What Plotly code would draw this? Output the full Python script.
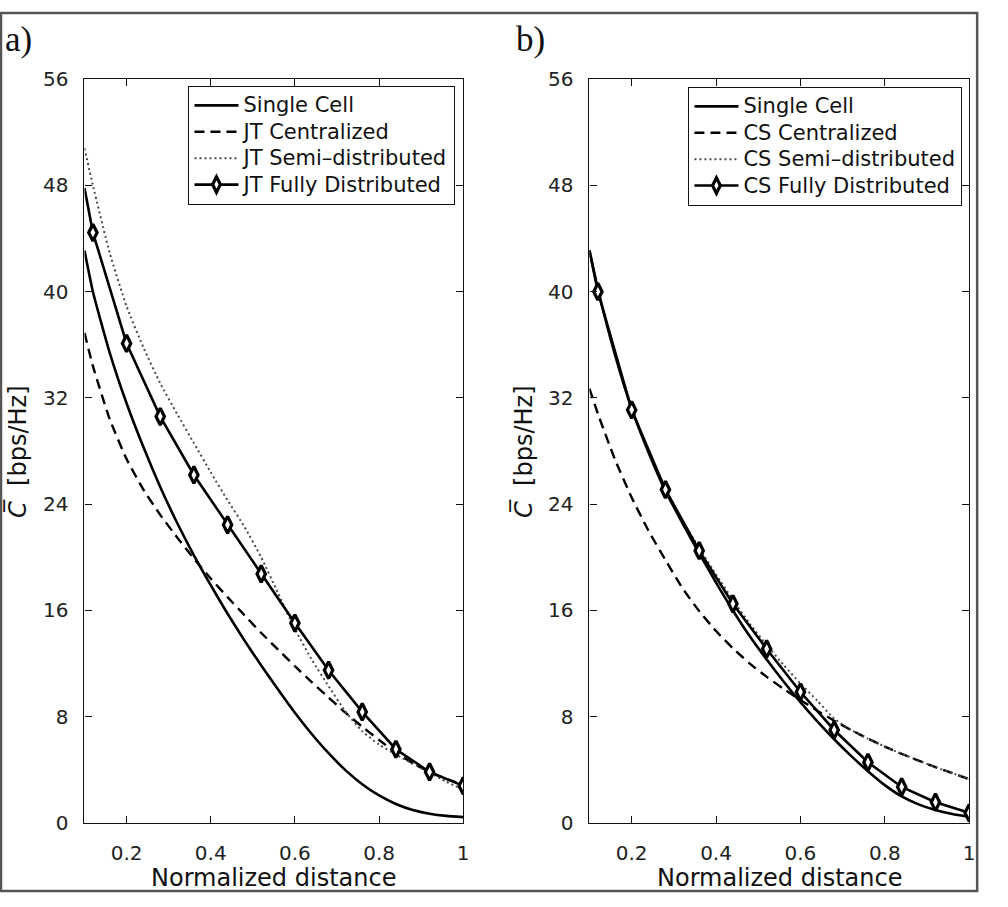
import plotly.graph_objects as go

W, H = 1008, 907

# ---------------- data ----------------
X = [0.10, 0.12, 0.16, 0.20, 0.24, 0.28, 0.32, 0.36, 0.40, 0.44, 0.48, 0.52,
     0.56, 0.60, 0.64, 0.68, 0.72, 0.76, 0.80, 0.84, 0.88, 0.92, 0.96, 1.00]
X_FD = [0.10, 0.12, 0.20, 0.28, 0.36, 0.44, 0.52, 0.60, 0.68, 0.76, 0.84, 0.92, 1.00]

# panel a) Joint Transmission
single_a = [43.1, 40.0, 35.4, 31.6, 28.3, 25.3, 22.6, 20.15, 17.9, 15.75, 13.75, 11.85,
            10.05, 8.3, 6.7, 5.25, 3.98, 2.92, 2.07, 1.43, 0.98, 0.7, 0.53, 0.44]
jt_central = [36.9, 34.4, 30.4, 27.4, 25.1, 23.2, 21.5, 19.9, 18.4, 17.0, 15.65, 14.3,
              13.05, 11.8, 10.6, 9.45, 8.3, 7.25, 6.25, 5.3, 4.5, 3.85, 3.3, 2.9]
jt_semi = [50.8, 48.0, 42.9, 38.9, 35.8, 33.1, 30.8, 28.6, 26.4, 24.3, 22.3, 20.0,
           17.3, 14.6, 12.3, 10.3, 8.4, 6.9, 5.9, 5.15, 4.45, 3.8, 3.1, 2.5]
jt_fully = [47.8, 44.45, 36.1, 30.6, 26.2, 22.45, 18.75, 15.05, 11.5, 8.36, 5.55, 3.84, 2.79]

# panel b) Coordinated Scheduling
single_b = [43.1, 40.2, 35.3, 31.2, 27.9, 25.0, 22.6, 20.3, 18.1, 16.0, 14.05, 12.3,
            10.65, 9.1, 7.65, 6.3, 5.05, 3.9, 2.85, 2.0, 1.4, 0.97, 0.67, 0.46]
cs_central = [32.7, 30.8, 27.4, 24.5, 22.0, 19.8, 17.7, 15.95, 14.45, 13.15, 12.0, 11.0,
              10.1, 9.25, 8.45, 7.7, 7.0, 6.35, 5.75, 5.2, 4.7, 4.2, 3.75, 3.3]
cs_semi = [43.1, 40.1, 35.4, 31.3, 28.0, 25.2, 22.8, 20.7, 18.7, 16.8, 15.0, 13.4,
           11.9, 10.5, 9.2, 7.85, 7.0, 6.35, 5.75, 5.2, 4.7, 4.2, 3.75, 3.3]
cs_fully = [43.1, 40.0, 31.1, 25.1, 20.5, 16.5, 13.1, 9.86, 7.0, 4.57, 2.71, 1.56, 0.76]

X_TICKS = [0.2, 0.4, 0.6, 0.8, 1.0]
X_TICKTEXT = ["0.2", "0.4", "0.6", "0.8", "1"]
Y_TICKS = [0, 8, 16, 24, 32, 40, 48, 56]

LABELS_A = ["Single Cell", "JT Centralized", "JT Semi–distributed", "JT Fully Distributed"]
LABELS_B = ["Single Cell", "CS Centralized", "CS Semi–distributed", "CS Fully Distributed"]

# ---------------- styling ----------------
FONT = "DejaVu Sans, Verdana, sans-serif"
SERIF = "Liberation Serif, Times New Roman, serif"
BLACK = "#000000"
DOT_GREY = "#4a4a4a"


def px_x(p):
    return p / W


def px_y(p):
    return 1 - p / H


def leg(name):
    return '<span style="font-size:21px">' + name + '</span>'


fig = go.Figure()


def add_panel(xa, ya, legend, labels, single, central, semi, fully):
    fig.add_trace(go.Scatter(x=X, y=single, mode="lines", name=leg(labels[0]),
                             line=dict(color=BLACK, width=2.6, shape="spline", smoothing=0.5),
                             xaxis=xa, yaxis=ya, legend=legend, legendgroup=legend + "1"))
    fig.add_trace(go.Scatter(x=X, y=central, mode="lines", name=leg(labels[1]),
                             line=dict(color=BLACK, width=2.4, dash="10px,6px",
                                       shape="spline", smoothing=0.5),
                             xaxis=xa, yaxis=ya, legend=legend, legendgroup=legend + "2"))
    fig.add_trace(go.Scatter(x=X, y=semi, mode="lines", name=leg(labels[2]),
                             line=dict(color=DOT_GREY, width=2, dash="2px,3px",
                                       shape="spline", smoothing=0.5),
                             xaxis=xa, yaxis=ya, legend=legend, legendgroup=legend + "3"))
    sizes = [0] + [12] * (len(X_FD) - 1)
    fig.add_trace(go.Scatter(x=X_FD, y=fully, mode="lines+markers", name=leg(labels[3]),
                             line=dict(color=BLACK, width=2.6),
                             marker=dict(symbol="diamond-tall", size=sizes, color="white",
                                         opacity=1, line=dict(color=BLACK, width=3.2)),
                             xaxis=xa, yaxis=ya, legend=legend, legendgroup=legend + "4"))


add_panel("x", "y", "legend", LABELS_A, single_a, jt_central, jt_semi, jt_fully)
add_panel("x2", "y2", "legend2", LABELS_B, single_b, cs_central, cs_semi, cs_fully)

axis_common = dict(showline=True, linecolor="#111111", linewidth=1.2, mirror="ticks",
                   ticks="inside", ticklen=7, tickwidth=1.2, tickcolor="#111111",
                   showgrid=False, zeroline=False,
                   tickfont=dict(family=FONT, size=20, color="#222222"))

ydom = [px_y(833), px_y(69)]
xdomA = [px_x(85), px_x(466)]
xdomB = [px_x(593), px_x(975)]

legend_common = dict(xanchor="right", yanchor="top", bgcolor="white",
                     bordercolor="#111111", borderwidth=1.2,
                     font=dict(family=FONT, size=18, color="#111111"),
                     traceorder="grouped", tracegroupgap=0, itemwidth=44)

fig.update_layout(
    width=W, height=H,
    margin=dict(l=0, r=0, t=0, b=0),
    paper_bgcolor="white", plot_bgcolor="white",
    xaxis=dict(domain=xdomA, range=[0.1, 1.0], tickvals=X_TICKS, ticktext=X_TICKTEXT,
               anchor="y", ticklabelstandoff=12, **axis_common),
    yaxis=dict(domain=ydom, range=[0, 56], tickvals=Y_TICKS, anchor="x",
               ticklabelstandoff=11, **axis_common),
    xaxis2=dict(domain=xdomB, range=[0.1, 1.0], tickvals=X_TICKS, ticktext=X_TICKTEXT,
                anchor="y2", ticklabelstandoff=12, **axis_common),
    yaxis2=dict(domain=ydom, range=[0, 56], tickvals=Y_TICKS, anchor="x2",
                ticklabelstandoff=11, **axis_common),
    legend=dict(x=px_x(458), y=px_y(76), **legend_common),
    legend2=dict(x=px_x(968), y=px_y(77), **legend_common),
    shapes=[dict(type="rect", xref="paper", yref="paper",
                 x0=px_x(1), x1=px_x(983), y0=px_y(903), y1=px_y(1),
                 line=dict(color="#555555", width=2.5))],
)

ann_font = dict(family=FONT, size=24, color="#111111")
annotations = [
    dict(text="a)", x=px_x(3), y=px_y(28), xanchor="left", yanchor="middle",
         font=dict(family=SERIF, size=35, color="#111111")),
    dict(text="b)", x=px_x(517), y=px_y(28), xanchor="left", yanchor="middle",
         font=dict(family=SERIF, size=35, color="#111111")),
    dict(text="Normalized distance", x=(xdomA[0] + xdomA[1]) / 2, y=px_y(890),
         xanchor="center", yanchor="middle", font=ann_font),
    dict(text="Normalized distance", x=(xdomB[0] + xdomB[1]) / 2, y=px_y(890),
         xanchor="center", yanchor="middle", font=ann_font),
    dict(text="<i>C\u0305</i>  [bps/Hz]", x=px_x(17), y=px_y(452), textangle=-90,
         xanchor="center", yanchor="middle", font=ann_font),
    dict(text="<i>C\u0305</i>  [bps/Hz]", x=px_x(526), y=px_y(452), textangle=-90,
         xanchor="center", yanchor="middle", font=ann_font),
]
for a in annotations:
    a.update(xref="paper", yref="paper", showarrow=False)
fig.update_layout(annotations=annotations)

fig.write_html("out.html",
               config={"displayModeBar": False},
               post_script="document.body.style.margin='0';"
                           "document.documentElement.style.overflow='hidden';")
